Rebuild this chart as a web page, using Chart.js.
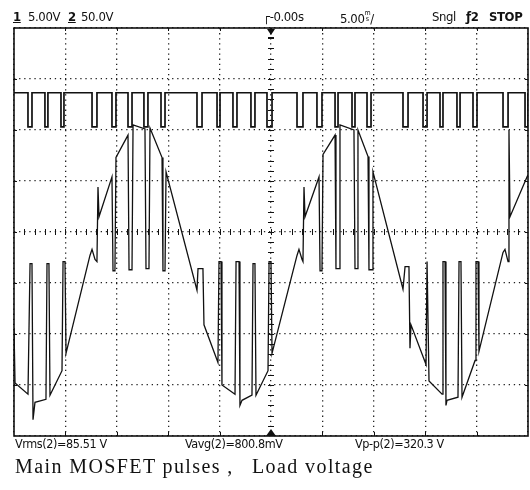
<!DOCTYPE html>
<html>
<head>
<meta charset="utf-8">
<script src="https://cdn.jsdelivr.net/npm/chart.js@4.4.0/dist/chart.umd.min.js"></script>
<style>
  body { margin: 0; background: #fff; }
  #wrap { position: relative; width: 530px; height: 490px; }
  #scope { position: absolute; left: 0; top: 0; }
  .t { position: absolute; font-family: 'DejaVu Sans Condensed', 'DejaVu Sans', sans-serif; color: #111; white-space: pre; line-height: 1; letter-spacing: -0.4px; }
  .hd { font-size: 13px; top: 10px; }
  .ft { font-size: 12.5px; top: 438px; }
  .u { text-decoration: underline; font-weight: bold; }
  .b { font-weight: bold; }
  .stk { display: inline-block; font-size: 7px; line-height: 6px; vertical-align: 2px; text-align: center; }
  .cap { position: absolute; font-family: 'Liberation Serif', 'DejaVu Serif', serif; font-size: 20px; line-height: 1; color: #111; white-space: pre; top: 456px; letter-spacing: 1.4px; }
</style>
</head>
<body>
<div id="wrap">
  <canvas id="scope" width="530" height="490"></canvas>
  <div class="t hd" style="left:13px"><span class="u">1</span></div>
  <div class="t hd" style="left:28px">5.00V</div>
  <div class="t hd" style="left:68px"><span class="u">2</span></div>
  <div class="t hd" style="left:81px">50.0V</div>
  <div class="t hd" style="left:263px">┌-0.00s</div>
  <div class="t hd" style="left:340px">5.00<span class="stk">m<br>s</span>/</div>
  <div class="t hd" style="left:432px">Sngl</div>
  <div class="t hd b" style="left:466px">ƒ2</div>
  <div class="t hd b" style="left:489px">STOP</div>
  <div class="t ft" style="left:15px">Vrms(2)=85.51 V</div>
  <div class="t ft" style="left:185px">Vavg(2)=800.8mV</div>
  <div class="t ft" style="left:355px">Vp-p(2)=320.3 V</div>
  <div class="cap" style="left:15px">Main MOSFET pulses ,</div>
  <div class="cap" style="left:252px">Load voltage</div>
</div>
<script>
// channel 1 (5 V/div): gate pulse levels and the notch edges, time in ms (5 ms/div)
const ch1High = 3.65;
const ch1Low = 0.3;
const dipStart = [-23.64, -21.99, -20.43, -17.41, -15.47, -13.91, -12.36, -10.70, -7.20, -5.25, -3.70, -1.95, -0.39,
                  2.53, 4.47, 6.23, 7.88, 9.34, 12.84, 14.79, 16.44, 18.09, 19.65, 22.57, 24.71];
const dipEnd = [-23.25, -21.70, -20.14, -16.93, -15.08, -13.52, -11.97, -10.31, -6.71, -4.96, -3.31, -1.56, 0.10,
                3.11, 4.96, 6.52, 8.17, 9.73, 13.33, 15.18, 16.73, 18.39, 20.04, 23.06, 25.0];

// channel 2 (50 V/div): load voltage, time in ms, volts
const ch2Time = [-25.0, -24.9, -23.64, -23.44, -23.25, -23.15, -22.96, -21.89, -21.79, -21.60,
                 -21.50, -20.33, -20.23, -20.04, -19.94, -17.61, -17.41, -17.12, -16.93, -16.83,
                 -16.73, -15.47, -15.37, -15.18, -15.08, -13.91, -13.81, -13.52, -13.42, -12.26,
                 -12.16, -11.87, -11.77, -10.60, -10.51, -10.31, -10.21, -7.20, -7.10, -6.62,
                 -6.52, -5.16, -5.06, -4.86, -4.77, -3.50, -3.40, -3.11, -3.02, -2.82,
                 -1.85, -1.75, -1.56, -1.46, -0.29, -0.19, 0.0, 0.10, 2.53, 2.72,
                 3.02, 3.11, 3.21, 3.31, 4.67, 4.77, 4.96, 5.06, 6.23, 6.32,
                 6.62, 6.71, 8.07, 8.17, 8.37, 8.46, 9.44, 9.53, 9.83, 9.92,
                 12.84, 13.04, 13.42, 13.52, 13.62, 15.08, 15.18, 15.27, 15.37, 16.64,
                 16.73, 16.93, 17.02, 17.12, 18.19, 18.29, 18.48, 18.58, 19.85, 19.94,
                 20.14, 20.23, 22.57, 22.76, 23.06, 23.15, 23.25, 24.90, 25.0];
const ch2Volt = [-54, -108, -119, 9, 9, -144, -127, -124, 9, 9,
                 -120, -96, 11, 11, -79, 17, 23, 13, 11, 84,
                 55, 94, 2, 2, 113, 135, 3, 3, 145, 141,
                 4, 4, 142, 113, 2, 2, 99, -17, 4, 4,
                 -51, -88, 11, 11, -110, -119, 11, 11, -130, -125,
                 -120, 9, 9, -120, -96, 11, 11, -79, 17, 23,
                 13, 11, 84, 55, 94, 2, 2, 116, 135, 4,
                 4, 145, 140, 4, 4, 140, 114, 3, 3, 99,
                 -16, 6, 6, -74, -51, -90, 11, 11, -106, -119,
                 11, 11, -130, -125, -122, 11, 11, -122, -86, 11,
                 11, -77, 20, 23, 11, 140, 55, 94, 96];

// screen offsets of each channel's ground, in divisions
const ch1Offset = 2.0;
const ch2Offset = -0.8;

const ch1Points = [{x: -25, y: ch1High}];
for (let i = 0; i < dipStart.length; i++) {
    ch1Points.push({x: dipStart[i], y: ch1High}, {x: dipStart[i], y: ch1Low},
                   {x: dipEnd[i], y: ch1Low}, {x: dipEnd[i], y: ch1High});
}
const ch2Points = ch2Time.map((t, i) => ({x: t, y: ch2Volt[i]}));

const scopeDecor = {
    id: 'scopeDecor',
    beforeDatasetsDraw(chart) {
        const {ctx, chartArea: a, scales} = chart;
        const cx = scales.x.getPixelForValue(0);
        const cy = scales.y.getPixelForValue(0);
        ctx.save();
        ctx.strokeStyle = '#111';
        ctx.lineWidth = 1;
        ctx.beginPath();
        for (let t = -24; t <= 24.01; t += 1) {
            const px = Math.round(scales.x.getPixelForValue(t)) + 0.5;
            ctx.moveTo(px, cy - 3); ctx.lineTo(px, cy + 3);
        }
        for (let d = -3.8; d <= 3.81; d += 0.2) {
            const py = Math.round(scales.y.getPixelForValue(d)) + 0.5;
            ctx.moveTo(cx - 3, py); ctx.lineTo(cx + 3, py);
        }
        for (let t = -20; t <= 20; t += 5) {
            const px = Math.round(scales.x.getPixelForValue(t)) + 0.5;
            ctx.moveTo(px, a.bottom); ctx.lineTo(px, a.bottom - 4);
            ctx.moveTo(px, a.top); ctx.lineTo(px, a.top + 3);
        }
        for (let d = -3; d <= 3; d++) {
            const py = Math.round(scales.y.getPixelForValue(d)) + 0.5;
            ctx.moveTo(a.left, py); ctx.lineTo(a.left + 3, py);
            ctx.moveTo(a.right, py); ctx.lineTo(a.right - 3, py);
        }
        ctx.stroke();
        ctx.restore();
    },
    afterDraw(chart) {
        const {ctx, chartArea: a, scales} = chart;
        const cx = scales.x.getPixelForValue(0);
        ctx.save();
        ctx.strokeStyle = '#111';
        ctx.lineWidth = 1.6;
        ctx.strokeRect(a.left, a.top, a.right - a.left, a.bottom - a.top);
        ctx.fillStyle = '#111';
        ctx.beginPath();
        ctx.moveTo(cx - 4, a.top + 1); ctx.lineTo(cx + 4, a.top + 1); ctx.lineTo(cx, a.top + 7);
        ctx.closePath(); ctx.fill();
        ctx.fillRect(cx - 3, a.top + 9, 6, 2);
        ctx.beginPath();
        ctx.moveTo(cx - 5, a.bottom); ctx.lineTo(cx + 5, a.bottom); ctx.lineTo(cx, a.bottom - 7);
        ctx.closePath(); ctx.fill();
        ctx.restore();
    }
};

const dotted = {display: false, dash: [1.3, 3.8]};

new Chart(document.getElementById('scope').getContext('2d'), {
    type: 'line',
    data: {
        datasets: [{
            label: 'Main MOSFET pulses',
            data: ch1Points,
            yAxisID: 'v1',
            borderColor: '#111',
            borderWidth: 1.7,
            pointRadius: 0,
            tension: 0
        }, {
            label: 'Load voltage',
            data: ch2Points,
            yAxisID: 'v2',
            borderColor: '#111',
            borderWidth: 1.3,
            pointRadius: 0,
            tension: 0
        }]
    },
    options: {
        responsive: false,
        animation: false,
        devicePixelRatio: 1,
        layout: { padding: { left: 14, top: 28, right: 2, bottom: 54 } },
        plugins: {
            legend: { display: false },
            tooltip: { enabled: false }
        },
        scales: {
            x: {
                type: 'linear', min: -25, max: 25,
                ticks: { display: false, stepSize: 5 },
                grid: { color: '#222', lineWidth: 1.3, drawTicks: false },
                border: dotted
            },
            y: {
                min: -4, max: 4,
                ticks: { display: false, stepSize: 1 },
                grid: { color: '#222', lineWidth: 1.3, drawTicks: false },
                border: dotted
            },
            v1: { display: false, min: (-4 - ch1Offset) * 5, max: (4 - ch1Offset) * 5 },
            v2: { display: false, min: (-4 - ch2Offset) * 50, max: (4 - ch2Offset) * 50 }
        }
    },
    plugins: [scopeDecor]
});
</script>
</body>
</html>
